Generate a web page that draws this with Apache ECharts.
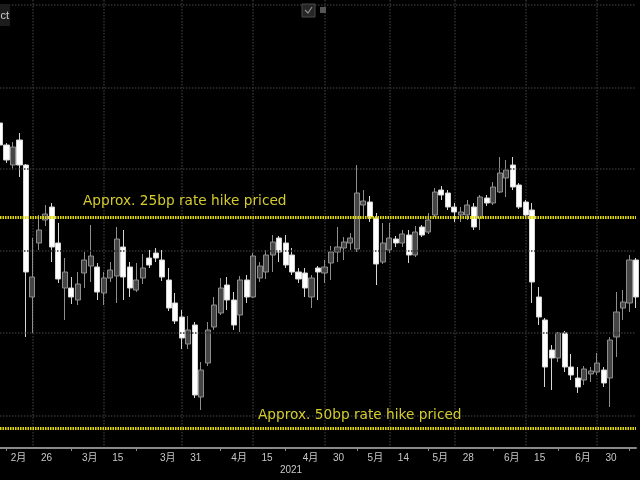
<!DOCTYPE html>
<html>
<head>
<meta charset="utf-8">
<script src="https://cdn.jsdelivr.net/npm/echarts@6/dist/echarts.min.js"></script>
<style>html,body{margin:0;padding:0;background:#000;}#c{width:640px;height:480px;}</style>
</head>
<body>
<div id="c"></div>
<script>
// Trading days (2021)
const dates = [
 '2021-02-19','2021-02-22','2021-02-23','2021-02-24','2021-02-25','2021-02-26',
 '2021-03-01','2021-03-02','2021-03-03','2021-03-04','2021-03-05',
 '2021-03-08','2021-03-09','2021-03-10','2021-03-11','2021-03-12',
 '2021-03-15','2021-03-16','2021-03-17','2021-03-18','2021-03-19',
 '2021-03-22','2021-03-23','2021-03-24','2021-03-25','2021-03-26',
 '2021-03-29','2021-03-30','2021-03-31','2021-04-01','2021-04-02',
 '2021-04-05','2021-04-06','2021-04-07','2021-04-08','2021-04-09',
 '2021-04-12','2021-04-13','2021-04-14','2021-04-15','2021-04-16',
 '2021-04-19','2021-04-20','2021-04-21','2021-04-22','2021-04-23',
 '2021-04-26','2021-04-27','2021-04-28','2021-04-29','2021-04-30',
 '2021-05-03','2021-05-04','2021-05-05','2021-05-06','2021-05-07',
 '2021-05-10','2021-05-11','2021-05-12','2021-05-13','2021-05-14',
 '2021-05-17','2021-05-18','2021-05-19','2021-05-20','2021-05-21',
 '2021-05-24','2021-05-25','2021-05-26','2021-05-27','2021-05-28',
 '2021-06-01','2021-06-02','2021-06-03','2021-06-04',
 '2021-06-07','2021-06-08','2021-06-09','2021-06-10','2021-06-11',
 '2021-06-14','2021-06-15','2021-06-16','2021-06-17','2021-06-18',
 '2021-06-21','2021-06-22','2021-06-23','2021-06-24','2021-06-25',
 '2021-06-28','2021-06-29','2021-06-30','2021-07-01','2021-07-02',
 '2021-07-06','2021-07-07','2021-07-08','2021-07-09'
];
const opens = [
 99.9385,99.9275,99.9175,99.9300,99.9175,99.8515,99.8785,99.8900,99.8965,99.8785,
 99.8560,99.8560,99.8500,99.8635,99.8670,99.8665,99.8535,99.8610,99.8620,99.8765,
 99.8665,99.8550,99.8610,99.8710,99.8735,99.8700,99.8600,99.8485,99.8415,99.8280,
 99.8375,99.8015,99.8185,99.8365,99.8435,99.8575,99.8500,99.8425,99.8600,99.8515,
 99.8610,99.8640,99.8725,99.8810,99.8785,99.8725,99.8640,99.8635,99.8515,99.8660,
 99.8635,99.8685,99.8740,99.8760,99.8785,99.8755,99.8975,99.8990,99.8910,99.8690,
 99.8750,99.8805,99.8785,99.8825,99.8725,99.8865,99.8840,99.8925,99.9050,99.9035,
 99.8965,99.8925,99.8925,99.8965,99.8910,99.9010,99.8985,99.9040,99.9110,99.9175,
 99.9075,99.8990,99.8950,99.8515,99.8400,99.8250,99.8210,99.8335,99.8165,99.8110,
 99.8100,99.8130,99.8140,99.8150,99.8110,99.8315,99.8460,99.8485,99.8700
];
const closes = [
 99.9275,99.9200,99.9265,99.9175,99.8640,99.8615,99.8850,99.8930,99.8765,99.8605,
 99.8640,99.8515,99.8580,99.8700,99.8720,99.8540,99.8610,99.8650,99.8805,99.8615,
 99.8560,99.8600,99.8660,99.8675,99.8710,99.8615,99.8460,99.8395,99.8310,99.8350,
 99.8025,99.8150,99.8350,99.8475,99.8560,99.8500,99.8375,99.8600,99.8515,99.8720,
 99.8670,99.8725,99.8790,99.8740,99.8675,99.8640,99.8605,99.8560,99.8610,99.8640,
 99.8665,99.8740,99.8765,99.8790,99.8810,99.9035,99.8995,99.8915,99.8680,99.8785,
 99.8810,99.8785,99.8830,99.8725,99.8840,99.8825,99.8900,99.9040,99.9025,99.8965,
 99.8940,99.8940,99.8975,99.8865,99.9015,99.8985,99.9065,99.9135,99.9150,99.9065,
 99.8965,99.8925,99.8590,99.8415,99.8165,99.8210,99.8335,99.8165,99.8125,99.8065,
 99.8155,99.8145,99.8185,99.8085,99.8300,99.8440,99.8490,99.8700,99.8515
];
const lows = [
 99.9250,99.9185,99.9150,99.9115,99.8315,99.8335,99.8750,99.8870,99.8690,99.8585,
 99.8400,99.8480,99.8475,99.8560,99.8590,99.8500,99.8475,99.8590,99.8485,99.8500,
 99.8515,99.8540,99.8580,99.8660,99.8690,99.8595,99.8445,99.8380,99.8255,99.8255,
 99.8010,99.7950,99.8170,99.8350,99.8425,99.8450,99.8350,99.8340,99.8485,99.8510,
 99.8590,99.8605,99.8640,99.8690,99.8660,99.8625,99.8585,99.8515,99.8460,99.8500,
 99.8585,99.8600,99.8690,99.8700,99.8750,99.8740,99.8915,99.8890,99.8575,99.8680,
 99.8735,99.8765,99.8765,99.8685,99.8715,99.8815,99.8830,99.8915,99.9000,99.8950,
 99.8890,99.8890,99.8900,99.8850,99.8850,99.8970,99.8975,99.9035,99.9015,99.9050,
 99.8955,99.8915,99.8485,99.8375,99.8065,99.8050,99.8190,99.8140,99.8100,99.8035,
 99.8075,99.8090,99.8125,99.8065,99.7965,99.8215,99.8400,99.8440,99.8460
];
const highs = [
 99.9400,99.9285,99.9290,99.9335,99.9180,99.8810,99.8925,99.8975,99.8985,99.8885,
 99.8710,99.8615,99.8640,99.8740,99.8875,99.8685,99.8640,99.8690,99.8865,99.8850,
 99.8690,99.8685,99.8730,99.8750,99.8760,99.8750,99.8660,99.8535,99.8450,99.8420,
 99.8390,99.8190,99.8390,99.8515,99.8610,99.8615,99.8540,99.8620,99.8625,99.8735,
 99.8690,99.8750,99.8825,99.8820,99.8825,99.8760,99.8660,99.8660,99.8625,99.8670,
 99.8700,99.8770,99.8865,99.8815,99.8835,99.9175,99.9050,99.9020,99.8935,99.8885,
 99.8885,99.8820,99.8850,99.8850,99.8870,99.8875,99.8935,99.9060,99.9070,99.9050,
 99.8985,99.8965,99.9000,99.8985,99.9025,99.9025,99.9090,99.9215,99.9200,99.9215,
 99.9085,99.9000,99.8985,99.8565,99.8410,99.8275,99.8340,99.8345,99.8230,99.8165,
 99.8170,99.8165,99.8235,99.8165,99.8315,99.8540,99.8550,99.8725,99.8710
];
// Axis label dates (major) and minor tick dates
const labelDates = ['2021-02-26','2021-03-15','2021-03-31','2021-04-15','2021-04-30',
                    '2021-05-14','2021-05-28','2021-06-15','2021-06-30'];
const minorTickDates = ['2021-02-22','2021-03-08','2021-03-22','2021-04-08','2021-04-22',
                        '2021-05-07','2021-05-24','2021-06-08','2021-06-22','2021-07-08'];
const yearLabel = '2021';
// Horizontal grid levels and rate-hike reference levels
const gridLevels = [99.9975, 99.9563, 99.9155, 99.8745, 99.8334, 99.7922];
const hikeLevels = [99.8913, 99.7860];
const hikeLabels = ['Approx. 25bp rate hike priced', 'Approx. 50bp rate hike priced'];
const yMin = 99.776, yMax = 100.0;

const chart = echarts.init(document.getElementById('c'), null, {renderer: 'canvas'});
const isLabel = (i) => labelDates.indexOf(dates[i]) >= 0;
const isMinor = (i) => minorTickDates.indexOf(dates[i]) >= 0;
const ohlc = dates.map((d, i) => [opens[i], closes[i], lows[i], highs[i]]);
const axisFont = '"Liberation Sans", "Noto Sans CJK JP", sans-serif';

const option = {
  backgroundColor: '#000000',
  animation: false,
  grid: {left: 0, right: 4, top: 0, bottom: 32, containLabel: false},
  xAxis: {
    type: 'category',
    data: dates,
    boundaryGap: false,
    axisLine: {show: true, lineStyle: {color: '#8a8a8a', width: 2}},
    axisTick: {show: true, interval: (i) => isMinor(i), length: 3, lineStyle: {color: '#8a8a8a', width: 1}},
    axisLabel: {
      show: true,
      interval: (i) => isLabel(i),
      margin: 5,
      color: '#c8c8c8',
      fontSize: 10,
      fontFamily: axisFont,
      formatter: (v) => {
        const p = v.split('-');
        return '{m|' + (+p[1]) + '月}{g|}{d|' + (+p[2]) + '}';
      },
      rich: {
        m: {width: 20, align: 'right', color: '#c8c8c8', fontSize: 10, fontFamily: axisFont},
        g: {width: 8},
        d: {width: 20, align: 'left', color: '#c8c8c8', fontSize: 10, fontFamily: axisFont}
      }
    },
    splitLine: {show: true, interval: (i) => isLabel(i), lineStyle: {color: '#303030', type: 'dotted', width: 1.5}}
  },
  yAxis: {
    type: 'value', min: yMin, max: yMax, scale: true,
    axisLine: {show: false}, axisTick: {show: false}, axisLabel: {show: false},
    splitLine: {show: false}
  },
  series: [
    {
      type: 'line', data: [], z: 1, silent: true,
      markLine: {
        silent: true, symbol: ['none', 'none'], label: {show: false}, precision: 6,
        lineStyle: {color: '#303030', type: 'dotted', width: 1.5},
        data: gridLevels.map(v => ({yAxis: v}))
      }
    },
    {
      type: 'candlestick',
      data: ohlc,
      barWidth: 5.6,
      z: 3,
      itemStyle: {
        color: '#454545', borderColor: '#8e8e8e',
        color0: '#ffffff', borderColor0: '#d6d6d6',
        borderWidth: 1
      },
      markLine: {
        silent: true, symbol: ['none', 'none'], label: {show: false}, precision: 6,
        lineStyle: {color: '#e2da00', type: [1.5, 1], width: 3},
        data: hikeLevels.map(v => ({yAxis: v}))
      }
    }
  ],
  graphic: [
    {type: 'text', x: 83, y: 201, z: 10, style: {text: hikeLabels[0], fill: '#d4cc2e', font: '13.7px "DejaVu Sans"', textAlign: 'left', textVerticalAlign: 'middle', align: 'left', verticalAlign: 'middle'}},
    {type: 'text', x: 258, y: 415, z: 10, style: {text: hikeLabels[1], fill: '#d4cc2e', font: '13.7px "DejaVu Sans"', textAlign: 'left', textVerticalAlign: 'middle', align: 'left', verticalAlign: 'middle'}},
    {type: 'text', x: 291, y: 470, z: 10, style: {text: yearLabel, fill: '#c8c8c8', font: '10px "Liberation Sans"', textAlign: 'center', textVerticalAlign: 'middle', align: 'center', verticalAlign: 'middle'}},
    {type: 'rect', shape: {x: 0, y: 4, width: 10, height: 22}, z: 10, style: {fill: '#1c1c1c'}},
    {type: 'text', x: 9, y: 16, z: 11, style: {text: 'ct', fill: '#d0d0d0', font: '11px "Liberation Sans"', textAlign: 'right', textVerticalAlign: 'middle', align: 'right', verticalAlign: 'middle'}},
    {type: 'rect', shape: {x: 302, y: 4, width: 13, height: 13}, z: 10, style: {fill: '#262626', stroke: '#4a4a4a', lineWidth: 1}},
    {type: 'polyline', shape: {points: [[305, 10], [308, 13], [312, 7]]}, z: 11, style: {stroke: '#8a8a8a', lineWidth: 1.2, fill: null}},
    {type: 'rect', shape: {x: 320, y: 7, width: 6, height: 6}, z: 10, style: {fill: '#555555'}}
  ]
};
chart.setOption(option);
</script>
</body>
</html>
